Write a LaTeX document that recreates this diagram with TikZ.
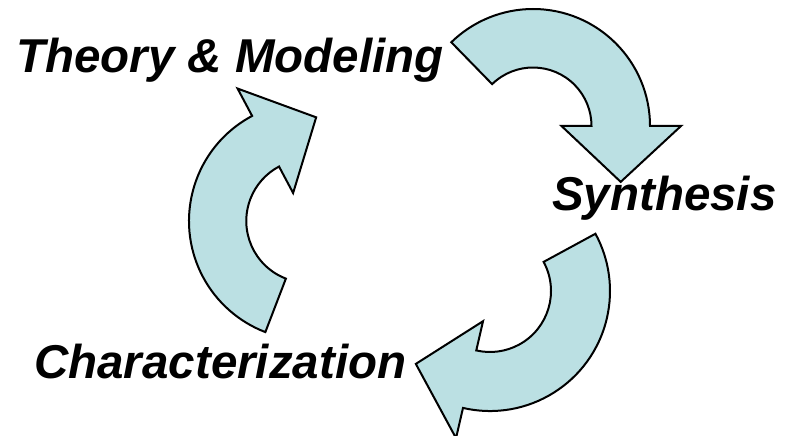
\documentclass[tikz,border=0pt]{standalone}
\usepackage{fontspec}
\setmainfont{Liberation Sans}
\begin{document}
\begin{tikzpicture}[x=1pt,y=-1pt,
  arrowbody/.style={draw=black, line width=2pt, line join=miter, fill=cyclefill},
  label/.style={anchor=base west, inner sep=0pt, font=\fontsize{47.5}{52}\selectfont\bfseries\itshape}]
\definecolor{cyclefill}{RGB}{187,224,227}
\useasboundingbox (0,0) rectangle (788,436);
% curved block arrow: centre x, centre y, tail angle, head angle, inner radius, outer radius
\newcommand\bentarrow[6]{%
  \begin{scope}[shift={(#1,#2)}]
    \draw[arrowbody] (#3:#6) -- (#3:#5)
      arc[start angle=#3, end angle=#4, radius=#5]
      -- (#4:{#5-30}) -- ({#4+32.5}:104) -- (#4:{#6+31}) -- (#4:#6)
      arc[start angle=#4, end angle=#3, radius=#6] -- cycle;
  \end{scope}}
\bentarrow{533}{126}{-134.3}{0}{58.5}{117}
\bentarrow{490}{291}{-28.5}{103}{61}{120}
\bentarrow{308}{221}{111}{242}{61.7}{119}
\node[label] (theory) at (16,73) {Theory \& Modeling};
\node[label] (synth) at (552,210) {Synthesis};
\node[label] (char) at (34,378) {Characterization};
\end{tikzpicture}
\end{document}
